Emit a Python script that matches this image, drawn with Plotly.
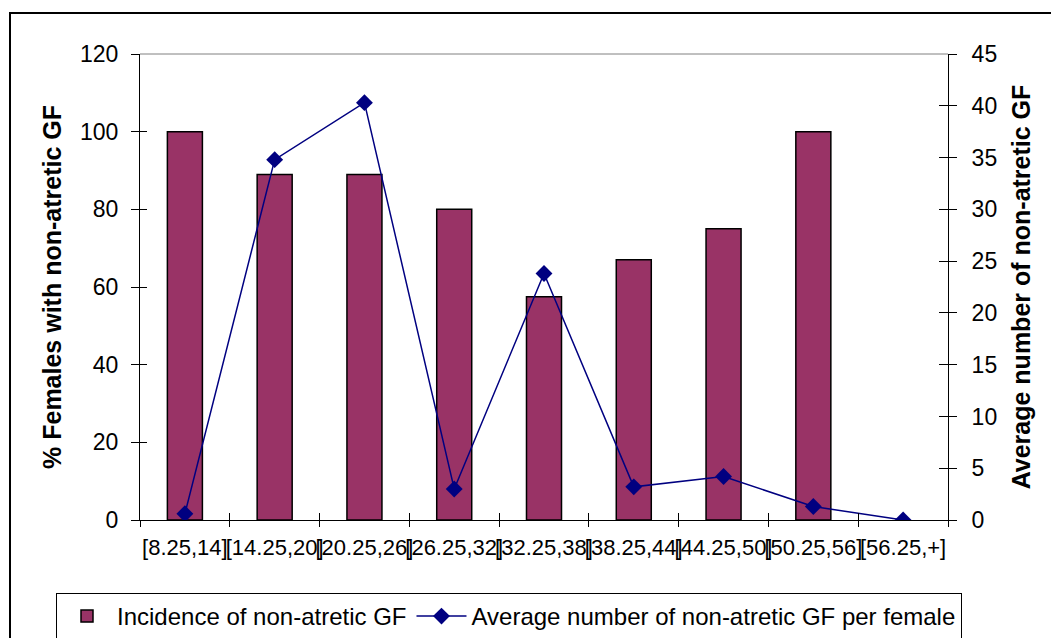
import plotly.graph_objects as go

# Length classes and the two measured series
classes = ["[8.25,14]", "[14.25,20]", "[20.25,26]", "[26.25,32]", "[32.25,38]",
           "[38.25,44]", "[44.25,50]", "[50.25,56]", "[56.25,+]"]
incidence_pct = [100, 89, 89, 80, 57.5, 67, 75, 100, None]
avg_number = [0.6, 34.8, 40.3, 3.0, 23.8, 3.2, 4.2, 1.3, 0.0]

left_ticks = [0, 20, 40, 60, 80, 100, 120]
right_ticks = [0, 5, 10, 15, 20, 25, 30, 35, 40, 45]

FONT = "Liberation Sans, Arial, sans-serif"
W, H = 1051, 638
ML, MR, MT, MB = 140, 103, 54, 118
PW, PH = W - ML - MR, H - MT - MB


def px_to_paper_x(px):
    return (px - ML) / PW


def px_to_paper_y(py):
    return (H - MB - py) / PH


fig = go.Figure()

fig.add_trace(go.Bar(
    x=classes, y=incidence_pct, name="Incidence of non-atretic GF",
    marker=dict(color="#993366", line=dict(color="black", width=1.5)),
    width=0.39, yaxis="y",
))

fig.add_trace(go.Scatter(
    x=classes, y=avg_number, name="Average number of non-atretic GF per female",
    mode="lines+markers", yaxis="y2",
    line=dict(color="#000080", width=1.5),
    marker=dict(symbol="diamond", size=13, color="#000080"),
))

# empty traces so the overlay axes carrying the inner tick halves get drawn
for xa, ya in (("x2", "y"), ("x", "y3"), ("x", "y4")):
    fig.add_trace(go.Scatter(x=[], y=[], xaxis=xa, yaxis=ya, showlegend=False,
                             hoverinfo="skip"))

axis_line = dict(showline=True, linecolor="black", linewidth=1, showgrid=False,
                 zeroline=False, tickcolor="black", tickwidth=1)
inner_ticks = dict(showticklabels=False, showline=False, showgrid=False,
                   zeroline=False, tickcolor="black", tickwidth=1,
                   ticks="inside", tickmode="array")

fig.update_layout(
    width=W, height=H,
    margin=dict(l=ML, r=MR, t=MT, b=MB, autoexpand=False),
    paper_bgcolor="white", plot_bgcolor="white",
    font=dict(family=FONT, color="black"),
    bargap=0.5,
    xaxis=dict(
        type="category", tickson="boundaries", ticks="outside", ticklen=6,
        tickangle=0, tickfont=dict(size=22), ticklabelstandoff=8,
        range=[-0.5, 8.5], **axis_line,
    ),
    xaxis2=dict(overlaying="x", anchor="y", range=[-0.5, 8.5],
                tickvals=[i - 0.5 for i in range(10)], ticklen=7, **inner_ticks),
    yaxis=dict(
        range=[0, 120], tickmode="array", tickvals=left_ticks,
        ticks="outside", ticklen=8, tickfont=dict(size=23), ticklabelstandoff=8,
        title=dict(text="<b>% Females with non-atretic GF</b>",
                   font=dict(size=25), standoff=11),
        **axis_line,
    ),
    yaxis2=dict(
        overlaying="y", side="right", anchor="x",
        range=[0, 45], tickmode="array", tickvals=right_ticks,
        ticks="outside", ticklen=8, tickfont=dict(size=23), ticklabelstandoff=10,
        title=dict(text="<b>Average number of non-atretic GF</b>",
                   font=dict(size=25), standoff=16),
        **axis_line,
    ),
    yaxis3=dict(overlaying="y", side="left", anchor="x", range=[0, 120],
                tickvals=left_ticks, ticklen=7, **inner_ticks),
    yaxis4=dict(overlaying="y", side="right", anchor="x", range=[0, 45],
                tickvals=right_ticks, ticklen=9, **inner_ticks),
    legend=dict(
        orientation="h", x=px_to_paper_x(56), xanchor="left",
        y=px_to_paper_y(593), yanchor="top",
        bordercolor="black", borderwidth=1, bgcolor="white",
        font=dict(size=24), traceorder="normal", itemwidth=50,
    ),
    showlegend=True,
    shapes=[
        # grey top edge of the plot area
        dict(type="line", xref="paper", yref="paper", x0=0, x1=1, y0=1, y1=1,
             line=dict(color="#808080", width=1)),
        # chart area frame
        dict(type="rect", xref="paper", yref="paper",
             x0=px_to_paper_x(10), x1=px_to_paper_x(1100),
             y0=px_to_paper_y(700), y1=px_to_paper_y(13),
             line=dict(color="black", width=2), layer="below"),
    ],
)

fig.write_html("out.html")
